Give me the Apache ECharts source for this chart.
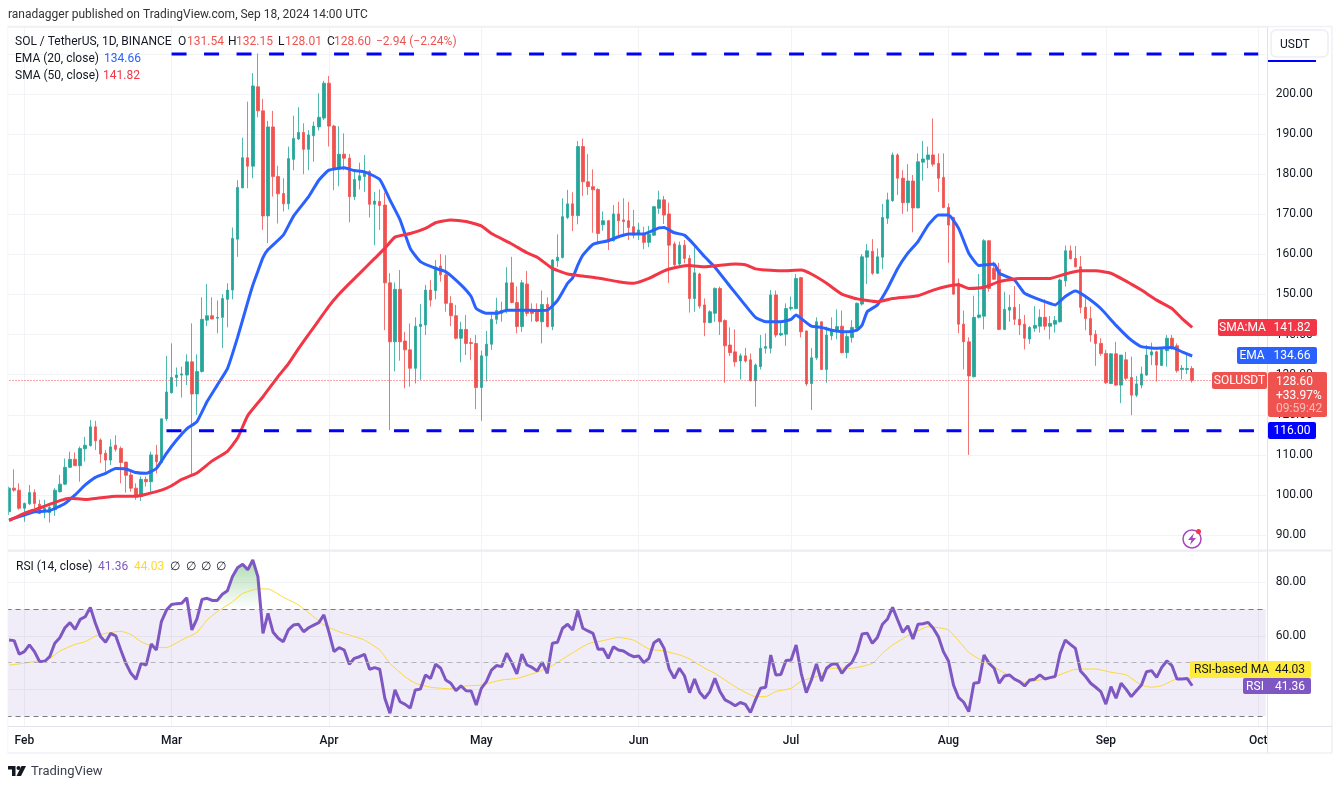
<!DOCTYPE html>
<html lang="en">
<head>
<meta charset="UTF-8">
<title>SOL / TetherUS, 1D, BINANCE</title>
<script src="https://cdn.jsdelivr.net/npm/echarts@6/dist/echarts.min.js"></script>
<style>
    html, body { margin: 0; padding: 0; background: #fff; }
    #main { width: 1340px; height: 786px; }
</style>
</head>
<body>
<div id="main"></div>
<script>
// daily candles from 2024-01-29 to 2024-09-18: open, close, low, high
const ohlc = [
[95.8,101.7,95,102.1],[101.7,101.2,100.8,106.4],[101.2,96.7,96.3,102.9],[96.7,97.9,93.3,98.1],[97.8,100.6,97.5,102.5],
[100.6,97.9,96.7,101.4],[97.7,95.4,95.2,98.8],[95.8,96.7,94.2,98.8],[95.6,96.9,93.1,97.9],[96.3,101.2,94.8,101.7],
[100.8,102.7,100.6,105],[102.7,106.9,102.5,109.1],[106.9,108.9,106.7,110.8],[108.9,107.3,107.3,110.6],[107.3,111.6,103.3,112.1],
[111.5,112.4,108.3,114.5],[112.3,117,112.1,118.7],[117,113.5,111.2,118.5],[113.7,110.2,108,114.1],[110.4,108.7,105.2,111.2],
[108.7,112,107.5,113.9],[112.4,111.4,110.8,114.9],[111.6,108.1,102.9,112.1],[108.2,104.9,100.6,108.3],[105,101.7,100.8,105.8],
[101.7,99.7,98.8,102.9],[99.6,103.9,98.5,104.6],[103.9,103.3,102.1,104.6],[103.3,110,100.6,110.8],[110,108.3,105.4,112.5],
[108.1,119,107.9,119],[119,125.7,118.5,134.7],[125.5,129.3,125.3,137.8],[129.3,129.9,127,131.8],[129.9,130.2,124.3,132],
[129.9,133.2,127.4,135.1],[133.2,125.2,105.2,142.8],[125.2,130.8,120,135.1],[130.8,143.8,130.5,149.3],[143.6,144.7,142.1,152.6],
[144.7,143.9,143.8,149.3],[144.1,144.3,140.3,148.5],[144.3,149,136.6,150.1],[148.8,151.1,141.8,152.8],[151.1,164,148.8,166.7],
[163.8,176.7,159.4,178.5],[176.6,184.1,176.5,189.1],[184.1,182,176.5,198.1],[182,202,179,205.2],[201.8,195.8,194.2,210.1],
[195.8,169.6,166.1,198.8],[169.6,191.8,162.8,193.3],[191.8,179.4,174.4,195.8],[179.4,175.1,167.7,182.1],[175.2,172.6,170.7,179],
[172.6,183.9,171.2,186.9],[183.7,188.9,181,194.6],[188.8,190.4,188.5,196.7],[190.4,186.2,180,192.7],[186.2,189.8,181,191],
[189.6,192,183.1,193.1],[191.8,194.2,190.9,200.2],[194,202.7,193.5,203.3],[202.7,192,186.9,204.5],[192,181.3,176,192.3],
[181.3,185,177,192],[185,184,181,190.2],[184,174.4,168,185],[174.4,178.7,173.6,181],[178.5,179.6,176.2,182.9],
[179.4,180.4,175.6,184.8],[180.7,172.5,169.2,181],[172.5,173.3,162.3,175.6],[173.2,172.2,166.1,176.2],[172.3,152.9,141.1,175.4],
[152.9,138.2,116.2,155.3],[138.2,151.3,130.8,153],[151.3,138.2,133.5,156.1],[138.4,136.2,126.6,140.7],[136.2,131.6,127,142.8],
[131.6,142.1,127.8,144.3],[142,142.6,128.7,147.6],[142.4,151.1,139.9,152.4],[151.1,148.6,147,153.6],[151,156.9,148.8,158.6],
[157.1,154.9,153.2,160.1],[154.9,147.8,145.7,159.8],[147.8,144.7,142.1,149.6],[144.7,139.1,138.8,147.4],[139.1,141.3,133.1,143.2],
[141.3,137.8,134.9,144.9],[138,137.8,133.7,139.1],[137.8,126.8,121.4,139.9],[126.8,134.7,118.5,136],[134.7,137.6,128.3,140.9],
[137.6,143.8,136.2,144.9],[143.8,146,142.6,149.2],[146,145.3,143.2,148.2],[146,152.9,145.3,156.8],[152.9,148,147.8,159.4],
[148,142,140.3,152],[142,152.9,140.7,153.6],[152.6,145.3,144.6,155.9],[146.3,145.3,143.2,147.8],[145.7,143.4,143.1,147.8],
[143.2,147.5,137.8,151],[147.5,142,141.8,149.3],[142,158.6,141.1,158.8],[158.4,159.3,156.9,165],[159.2,169.4,159,174],
[169.2,172.6,168.8,176.1],[172.6,169.7,165.8,175.5],[169.7,186.9,167.5,188.3],[186.9,178.1,174.6,188.9],[178.1,176.9,174.8,185],
[176.9,176.1,165.4,181.2],[176.2,165.2,162.8,176.5],[167.4,168.4,165.9,170.7],[168.4,163.2,161.1,168.6],[163.4,170.1,163.2,172.3],
[170.1,168.4,164.8,173.1],[168.6,168.2,164.4,174],[168.4,166.7,163.6,173.1],[166.9,164.8,164,171.1],[165.1,166.1,163.6,167.9],
[165.2,163,161.3,166.9],[163,165,161.8,167.1],[164.8,171.9,164.6,172.1],[171.5,173.6,170.1,175.9],[173.6,169.8,167.6,174.6],
[170.1,162.3,152.9,172.9],[162.6,157.4,156.9,163.2],[157.6,162.3,156.9,163.2],[162.3,159,157.8,163.6],[159,149,145.5,159.8],
[149,155.4,145.7,161.9],[155.1,147.1,146.5,155.4],[147.4,143,139.6,149],[143,145.7,142.8,146.1],[145.3,151.5,143.2,151.8],
[151.5,143.2,139.9,152],[143.5,137.2,128,143.8],[137.4,135.5,134.7,141.8],[135.7,133.2,132,141.3],[133.4,134.7,128.8,135.3],
[134.7,133.4,133,136.7],[133.7,128.5,128.3,135.3],[128.5,132.4,122,132.8],[132,136.6,131.3,139.9],[136.6,137,135.3,140.3],
[136.6,149.9,135.3,151.1],[149.9,139.9,139.3,151],[139.9,140.3,139.6,143],[140.1,146.5,137.2,147.8],[146.5,146.8,146,149.5],
[146.5,154,146.3,155.1],[154.2,140.7,139.3,154.4],[140.9,127.7,127.2,141],[127.8,134.2,121.2,136.6],[134.2,143.2,133.7,144.3],
[143.2,131.3,131.2,143.2],[131.3,139.9,128,142],[139.7,141.1,138.6,144.3],[141,142,138.8,146.3],[142.1,135.5,135.3,146],
[135.5,139.5,134.1,140.3],[139.3,141.8,138,143.6],[141.6,147.8,141.1,148],[147.6,159.4,147.2,160.1],[159.3,160.9,152.6,162.6],
[160.8,155.3,154.9,163.8],[155.3,159.4,155.1,161.5],[159.3,169.2,156.3,172.6],[169,173.6,167.6,175.4],[173.4,184.8,173.1,185.4],
[184.8,179,174.8,185.2],[179,172.9,170.1,181],[172.9,178.3,170.7,182.5],[178.3,171.6,165.5,179.8],[171.6,183.1,171.5,185.2],
[183,183.8,178.4,188.3],[183.7,184.8,181.5,186.9],[184.8,182.5,181.9,193.9],[182.7,179,175.6,185.2],[179.2,171.7,171.5,185.2],
[171.7,167.3,157.9,172.7],[169.2,150.1,149.9,169.4],[152.8,142.6,140.3,154],[142.6,138.2,131.3,146],[138.2,129.7,110,139.3],
[129.5,144.3,129.3,149.7],[144.3,144.9,144,155.1],[144.6,163.4,141.3,163.8],[163.4,151.5,150.7,163.6],[156.5,153.8,153.6,158.2],
[156.3,141.3,141.1,157.9],[141.3,146.3,141.1,150.7],[146.1,146.8,143.2,149.9],[146.8,143.8,142.4,152.1],[143.8,142.4,139.9,147.6],
[142.6,139.1,136.3,144.9],[138.9,141.8,137.7,142.1],[141.6,142.3,140.7,147.1],[142.1,144.3,140.5,146.3],[144.3,142.1,141.1,148.8],
[142.1,142.8,138.8,144.6],[142.6,143.5,140.5,144.6],[143.2,153.6,143,154],[153.4,160.9,152,162.2],[160.9,158.9,158.8,162.2],
[159,156.9,156.8,162.1],[156.9,146.8,145.3,159.6],[146.8,144,141.1,149.5],[144,139.9,138.2,147],[140.1,137.8,132.2,141.1],
[137.8,135.3,134.7,139.1],[135.3,128,127.7,136.2],[127.8,135.2,127.7,135.3],[135.2,127.4,127.2,138.2],[127.4,134.9,122.9,134.9],
[133.7,129.1,128.7,135.7],[129.3,124.9,119.9,134.5],[124.9,127.7,124.4,129.7],[127.4,130.2,126.6,132],[129.9,134.9,129.7,137.4],
[134.9,135.7,132.4,138],[135.7,132.4,128.3,136],[132.3,136.3,132.2,136.6],[136,139.1,132,139.9],[139.1,136.6,136.2,139.9],
[137.2,131,130.5,137.8],[131.3,131.6,128.8,132.4],[131.3,131.54,130.2,134.9],[131.54,128.6,128.01,132.15]
];

// the moving averages are read at these days: [days after Feb 1, value]
const ema20 = [[-3,93.8],[0,95],[2,95.8],[5,96.1],[8,97.9],[10,100],[12,102.5],[14,104.4],[16,105.4],[18,106.6],[20,106.5],[22,105.6],[24,105.4],[26,106.6],[28,110.4],[30,113.7],[32,116.5],[34,118.3],[36,123.3],[38,127.4],[40,131.5],[42,139.3],[44,148.1],[45,152.3],[46,155.8],[47,159.2],[48,161.2],[51,164.8],[53,169.5],[56,174.4],[58,178.5],[60,181],[63,181.6],[65,180.9],[67,180.6],[70,178.7],[72,173.6],[74,168.6],[76,161.5],[78,158.2],[81,156.5],[83,155.7],[86,152.4],[88,149.5],[89,146.5],[91,145.3],[93,145.3],[95,146.1],[98,146.1],[101,146],[103,146.1],[105,148.5],[107,152.8],[108,154.2],[109,157.3],[110,159.8],[112,162.5],[115,163.4],[117,164.4],[119,165.1],[122,165.1],[125,166.6],[126,166.7],[128,165.4],[130,164.8],[132,162.3],[134,159.4],[136,156.8],[139,152],[142,147.3],[144,144.3],[146,143.2],[149,143.2],[151,143.8],[152,144.9],[153,144],[155,142.1],[157,141.8],[159,141.1],[162,140.7],[164,141.1],[165,142.4],[166,145.7],[168,147.4],[170,151.5],[172,156.5],[174,160.3],[176,163.2],[178,167.3],[180,169.8],[182,169.8],[184,166.5],[186,160.3],[188,157.2],[191,157.6],[192,155.3],[195,153.6],[197,150.3],[201,148.2],[203,147.4],[205,149.5],[207,150.9],[209,149.5],[212,146.5],[215,142.3],[218,138.6],[220,137],[223,136.6],[226,136.8],[228,135.7],[230,134.66]];
const sma50 = [[-3,93.6],[0,95.4],[2,96.3],[4,97.2],[7,98.6],[9,99.2],[12,98.9],[15,99.3],[18,99.7],[22,99.7],[24,100.2],[27,101.2],[29,102.3],[31,103.9],[34,105.5],[37,108.5],[40,110.9],[42,114.2],[44,119.8],[47,124.5],[50,129.6],[52,132.7],[54,136.5],[57,141.8],[60,147.1],[62,150.1],[64,152.7],[66,155.2],[69,159],[71,161.5],[73,164.3],[76,165.2],[79,166.5],[81,167.9],[84,168.6],[87,168.2],[90,167.1],[92,165.2],[96,162.6],[99,160.4],[101,159.3],[104,156.5],[107,155.1],[110,154.6],[113,154.1],[117,153.2],[120,152.8],[123,154],[126,155.9],[129,156.9],[131,157.2],[134,156.9],[137,157.3],[140,157.6],[142,157.4],[144,156.4],[146,156.1],[149,155.9],[153,156.1],[155,155.1],[158,152.8],[161,150.1],[164,148.9],[168,148.2],[171,149],[176,149.7],[179,151.1],[182,152.1],[184,152.4],[186,151.5],[189,151.8],[192,153.2],[196,154],[202,154],[205,155.1],[208,155.9],[211,155.9],[214,155.3],[218,152.6],[220,151.1],[223,148.6],[226,146.5],[228,144],[230,141.82]];
const rsiMa = [[-3,49.1],[-1,49.5],[2,50.4],[5,51.6],[7,54.3],[10,56.8],[12,57.8],[14,59.9],[16,60.9],[19,61.7],[21,60.5],[23,57.8],[26,55.6],[28,55.6],[31,58.4],[34,61.3],[36,65.9],[38,69],[41,72.7],[43,75.8],[46,77.5],[48,77.5],[51,74.4],[54,71.5],[57,67.1],[59,64],[62,61.5],[64,60.3],[67,58.4],[70,54.7],[72,49.7],[75,44.7],[77,42.3],[80,40.8],[84,40.2],[87,41.3],[90,41.6],[92,42.6],[94,43.5],[97,44.1],[101,46.4],[104,48.9],[107,52.5],[111,57],[114,58.2],[117,59.4],[120,58.4],[123,55.1],[126,54.3],[129,52.9],[131,51.4],[134,47.9],[136,46],[140,41],[144,37.3],[146,37.3],[148,39.2],[151,40.4],[153,43.1],[156,44.8],[159,47.9],[163,47.9],[167,49.7],[169,53.5],[171,56.6],[174,60],[178,63.4],[182,62.2],[186,53.8],[189,50.3],[192,47.2],[195,44.1],[197,42.6],[200,43.5],[203,44.8],[207,47.5],[211,47.6],[214,46.4],[217,45.4],[220,41.6],[222,40.8],[224,41.4],[227,43.9],[230,44.03]];

// RSI (14), one value per candle
const rsi = [
58.4,58.2,53.1,54.1,56.6,54.1,50.4,50.4,52.2,57.2,59.3,63,64.9,62.4,66.1,67.1,70.6,64.7,59.7,57.6,60.9,60,54.7,49.7,46,43.8,49.7,49.1,56.9,54.7,
65.3,69.6,71.7,72,72.1,74.2,62.2,66.3,73.6,74,73.2,73.2,75.5,76.8,82.1,85.4,86.7,84.6,88.3,82.1,60.9,68.4,61.3,59.1,57.8,62.2,64,64.3,61.5,63,
64,64.9,67.8,61.3,54.1,55.6,54.7,49.4,51.6,52.2,53.1,47.5,48.1,47.5,36.7,31.1,39.8,35.4,34.4,33,39.8,40.1,45.4,44.1,49.4,47.9,43.5,42.3,39.5,41.3,
39.5,39.4,34.2,40.4,42.9,47.2,48.9,48.5,53.5,50,45.8,53.2,49.1,48.2,46.9,50.1,46,57.2,57.6,62.8,64.3,62.2,69.4,62.8,61.8,60.9,55,55.1,51.6,55.9,
54.7,54.3,53.1,52.2,52.5,50,51.6,57.4,58.7,55.3,47.6,44.1,47.9,45.1,38.8,43.9,38.9,36.7,39.2,44.1,39.2,36.1,35.1,33.9,35.1,34.4,31.4,36.1,40.4,40.8,
52.8,45.4,45.6,50.8,51,56.6,46,38.8,43.5,49.5,43.1,47.9,49.4,49.6,46,48.5,50.1,54.1,60.7,61,57.2,59.4,64.3,66.3,70.6,65.9,61.3,63.7,58.8,64.3,
64.5,65,62.8,59.7,54.1,50.6,41.6,36.9,35.2,31.7,42.3,42.6,52.8,49.7,47.9,42.3,45,45.4,43.8,42.9,41.3,43.5,43.8,45.4,43.9,44.4,44.8,53.5,58.4,56.8,
55.3,46.9,44.8,42.3,40.8,39.2,34.5,41,36.7,42.3,40,37.3,39.5,41.6,46.6,47,44.5,48.2,50.6,48.9,43.9,43.9,44.1,41.36
];

const monthLabels = {
    '2024-02-01': 'Feb', '2024-03-01': 'Mar', '2024-04-01': 'Apr', '2024-05-01': 'May',
    '2024-06-01': 'Jun', '2024-07-01': 'Jul', '2024-08-01': 'Aug', '2024-09-01': 'Sep', '2024-10-01': 'Oct'
};
const resistance = 210;
const support = 116;
const lastClose = 128.6;
const rsiLevels = [70, 50, 30];

// days on the axis, first one is Jan 29, the rest is empty room up to Oct
const categories = [];
for (let i = 0; i < 248; i++) {
    categories.push(new Date(Date.UTC(2024, 0, 29 + i)).toISOString().slice(0, 10));
}
const dayIndex = 3; // Feb 1 sits at category 3
const oct1 = categories.indexOf('2024-10-01');
const atDay = rows => rows.map(r => [categories[r[0] + dayIndex], r[1]]);
const isMonthStart = (i, name) => monthLabels[name] !== undefined;

const FONT = 'Roboto, sans-serif';
const TXT = '#131722';
const GREEN = '#26a69a';
const RED = '#ef5350';
const GRID = '#f2f3f7';

// pane frame, tags and header are plain graphic elements
const text = (x, y, s, fill, opt) => ({
    type: 'text', z: 100, x: x, y: y,
    style: Object.assign({ text: s, fill: fill, font: '12px ' + FONT, textVerticalAlign: 'middle' }, opt || {})
});
const box = (x, y, w, h, fill, r) => ({
    type: 'rect', z: 99, shape: { x: x, y: y, width: w, height: h, r: r === undefined ? 2 : r }, style: { fill: fill }
});
const rule = (x1, y1, x2, y2, color, w) => ({
    type: 'line', z: 98, shape: { x1: x1, y1: y1, x2: x2, y2: y2 }, style: { stroke: color, lineWidth: w || 1 }
});

const graphics = [
    box(0, 27, 7.5, 726, '#fff', 0),
    rule(7.5, 26.5, 1332, 26.5, '#f0f1f5', 1.5),
    rule(7.5, 26.5, 7.5, 753, '#f0f1f5', 1.5),
    rule(1332, 26.5, 1332, 753, '#f0f1f5', 1.5),
    rule(7.5, 753, 1332, 753, '#f0f1f5', 1.5),
    rule(7.5, 550.5, 1332, 550.5, '#eceef4', 2),
    rule(7.5, 726.5, 1332, 726.5, '#e0e3eb', 1),
    rule(1267.5, 26.5, 1267.5, 753, '#e0e3eb', 1),

    text(8, 15, 'ranadagger published on TradingView.com, Sep 18, 2024 14:00 UTC', '#333'),

    text(15, 42, 'SOL / TetherUS, 1D, BINANCE', TXT),
    text(178, 42, 'O', TXT), text(187, 42, '131.54', RED),
    text(228, 42, 'H', TXT), text(236, 42, '132.15', RED),
    text(278, 42, 'L', TXT), text(285, 42, '128.01', RED),
    text(327, 42, 'C', TXT), text(334, 42, '128.60', RED),
    text(376, 42, '\u22122.94 (\u22122.24%)', RED),
    text(15, 59, 'EMA (20, close)', TXT), text(104, 59, '134.66', '#2962ff'),
    text(15, 76, 'SMA (50, close)', TXT), text(103, 76, '141.82', '#f23645'),

    text(16, 567, 'RSI (14, close)', TXT),
    text(98, 567, '41.36', '#7e57c2'), text(134, 567, '44.03', '#fdd835'),
    text(170, 567, '\u2205', TXT), text(186, 567, '\u2205', TXT), text(201, 567, '\u2205', TXT), text(216, 567, '\u2205', TXT),

    // USDT button
    { type: 'rect', z: 99, shape: { x: 1271, y: 30, width: 57, height: 27, r: 5 }, style: { fill: '#fff', stroke: '#eceef4', lineWidth: 1.5 } },
    text(1280, 44.5, 'USDT', TXT),
    box(1268, 60, 48, 2, '#0000ff', 0),

    // price tags
    box(1218, 319, 99, 17, '#f23645'),
    text(1242.5, 328, 'SMA:MA', '#fff', { textAlign: 'center' }),
    text(1292, 328, '141.82', '#fff', { textAlign: 'center' }),
    rule(1267.5, 319, 1267.5, 336, '#f7a3ab', 1),

    box(1237, 347, 80, 17, '#2962ff'),
    text(1252, 356, 'EMA', '#fff', { textAlign: 'center' }),
    text(1292, 356, '134.66', '#fff', { textAlign: 'center' }),
    rule(1267.5, 347, 1267.5, 364, '#9cb5ff', 1),

    box(1212, 372, 55, 17, RED),
    box(1268, 372, 59, 45, RED),
    text(1239.5, 381, 'SOLUSDT', '#fff', { textAlign: 'center' }),
    text(1276, 381.5, '128.60', '#fff'),
    text(1276, 395.5, '+33.97%', '#fff'),
    text(1276, 409, '09:59:42', 'rgba(255,255,255,0.6)'),

    box(1268, 422, 48, 17, '#0000ff'),
    text(1292, 431, '116.00', '#fff', { textAlign: 'center' }),

    box(1190, 661, 121, 17, '#ffeb3b'),
    text(1194, 670, 'RSI-based MA', TXT),
    text(1290, 670, '44.03', TXT, { textAlign: 'center' }),
    rule(1267.5, 661, 1267.5, 694, 'rgba(255,255,255,0.5)', 1),
    box(1243, 678, 68, 16, '#7e57c2'),
    text(1255, 686.5, 'RSI', '#fff', { textAlign: 'center' }),
    text(1290, 686.5, '41.36', '#fff', { textAlign: 'center' }),

    // news bolt
    { type: 'circle', z: 99, shape: { cx: 1192, cy: 539, r: 9 }, style: { fill: 'rgba(255,255,255,0.9)', stroke: '#ab47bc', lineWidth: 1.5 } },
    { type: 'polygon', z: 100, shape: { points: [[1194, 533], [1188, 540], [1191.5, 540], [1190, 545], [1196, 538], [1192.5, 538]] }, style: { fill: '#ab47bc' } },
    { type: 'circle', z: 100, shape: { cx: 1198.5, cy: 531.5, r: 2.5 }, style: { fill: '#f23645' } },

    // TradingView mark
    { type: 'polygon', z: 100, shape: { points: [[8, 766], [15.5, 766], [15.5, 776], [12, 776], [12, 769.5], [8, 769.5]] }, style: { fill: '#131722' } },
    { type: 'polygon', z: 100, shape: { points: [[21.5, 766], [26, 766], [21, 776], [16.5, 776]] }, style: { fill: '#131722' } },
    { type: 'circle', z: 100, shape: { cx: 18.5, cy: 768, r: 2 }, style: { fill: '#131722' } },
    text(31, 772, 'TradingView', '#3a3e4a', { font: '13px ' + FONT })
];

const chart = echarts.init(document.getElementById('main'), null, { renderer: 'canvas' });

const hiddenCatAxis = {
    type: 'category', data: categories, boundaryGap: true,
    axisLine: { show: false }, axisTick: { show: false, alignWithLabel: true, interval: isMonthStart },
    splitLine: { show: true, interval: isMonthStart, alignWithLabel: true, lineStyle: { color: GRID, width: 1 } }
};

chart.setOption({
    animation: false,
    backgroundColor: '#fff',
    textStyle: { fontFamily: FONT },
    graphic: graphics,
    grid: [
        { left: 6.53, width: 1259.3, top: 27, height: 523 },
        { left: 6.53, width: 1259.3, top: 551, height: 175.7 }
    ],
    xAxis: [
        Object.assign({}, hiddenCatAxis, { gridIndex: 0, axisLabel: { show: false } }),
        Object.assign({}, hiddenCatAxis, {
            gridIndex: 1,
            axisLabel: {
                show: true, interval: isMonthStart, color: TXT, fontSize: 12, margin: 8, fontWeight: 500,
                formatter: v => monthLabels[v] || ''
            }
        })
    ],
    yAxis: [
        {
            type: 'value', gridIndex: 0, position: 'right', min: 86.28, max: 216.71, splitNumber: 13, scale: true,
            axisLine: { show: false }, axisTick: { show: false },
            axisLabel: { color: TXT, fontSize: 12, margin: 10, showMinLabel: false, showMaxLabel: false, formatter: v => v.toFixed(2) },
            splitLine: { show: true, lineStyle: { color: GRID } }
        },
        {
            type: 'value', gridIndex: 1, position: 'right', min: 26.08, max: 91.64, splitNumber: 3, scale: true,
            axisLine: { show: false }, axisTick: { show: false },
            axisLabel: { color: TXT, fontSize: 12, margin: 10, showMinLabel: false, showMaxLabel: false, formatter: v => v.toFixed(2) },
            splitLine: { show: true, lineStyle: { color: GRID } }
        }
    ],
    series: [
        {
            name: 'SOLUSDT', type: 'candlestick', xAxisIndex: 0, yAxisIndex: 0, data: ohlc, barWidth: 3, z: 3,
            itemStyle: {
                color: GREEN, color0: RED, borderWidth: 1,
                borderColor: 'rgba(38,166,154,0.8)', borderColor0: 'rgba(239,83,80,0.8)'
            },
            markLine: {
                silent: true, symbol: 'none', label: { show: false },
                lineStyle: { color: RED, type: [1, 2], width: 1 },
                data: [{ yAxis: lastClose }]
            }
        },
        {
            name: 'EMA', type: 'line', xAxisIndex: 0, yAxisIndex: 0, data: atDay(ema20), smooth: 0.15,
            showSymbol: false, z: 4, lineStyle: { color: '#2962ff', width: 3 }
        },
        {
            name: 'SMA', type: 'line', xAxisIndex: 0, yAxisIndex: 0, data: atDay(sma50), smooth: 0.15,
            showSymbol: false, z: 4, lineStyle: { color: '#f23645', width: 3 }
        },
        {
            name: 'Resistance', type: 'line', xAxisIndex: 0, yAxisIndex: 0, showSymbol: false, z: 5,
            data: [[categories[29 + dayIndex], resistance], [categories[oct1], resistance]],
            lineStyle: { color: '#0000ff', width: 3, type: [15, 17.5] }
        },
        {
            name: 'Support', type: 'line', xAxisIndex: 0, yAxisIndex: 0, showSymbol: false, z: 5,
            data: [[categories[28 + dayIndex], support], [categories[oct1], support]],
            lineStyle: { color: '#0000ff', width: 3, type: [15, 17.5] }
        },
        {
            name: 'Overbought', type: 'line', xAxisIndex: 1, yAxisIndex: 1, showSymbol: false, z: 2,
            data: rsi.map(v => Math.max(v, rsiLevels[0])),
            lineStyle: { width: 0, opacity: 0 },
            areaStyle: {
                origin: rsiLevels[0],
                color: {
                    type: 'linear', global: true, x: 0, y: 560, x2: 0, y2: 609,
                    colorStops: [{ offset: 0, color: 'rgba(76,175,80,0.65)' }, { offset: 1, color: 'rgba(76,175,80,0)' }]
                }
            }
        },
        {
            name: 'RSI', type: 'line', xAxisIndex: 1, yAxisIndex: 1, data: rsi, showSymbol: false, z: 4,
            lineStyle: { color: '#7e57c2', width: 3 },
            markArea: {
                silent: true, itemStyle: { color: 'rgba(126,87,194,0.11)' },
                data: [[{ yAxis: rsiLevels[0] }, { yAxis: rsiLevels[2] }]]
            },
            markLine: {
                silent: true, symbol: 'none', label: { show: false },
                lineStyle: { color: '#787b86', type: [5, 4], width: 1 },
                data: [
                    { yAxis: rsiLevels[0] },
                    { yAxis: rsiLevels[1], lineStyle: { color: '#b2b5be' } },
                    { yAxis: rsiLevels[2] }
                ]
            }
        },
        {
            name: 'RSI-based MA', type: 'line', xAxisIndex: 1, yAxisIndex: 1, data: atDay(rsiMa), smooth: 0.15,
            showSymbol: false, z: 3, lineStyle: { color: '#fdd835', width: 1 }
        }
    ]
});
</script>
</body>
</html>
